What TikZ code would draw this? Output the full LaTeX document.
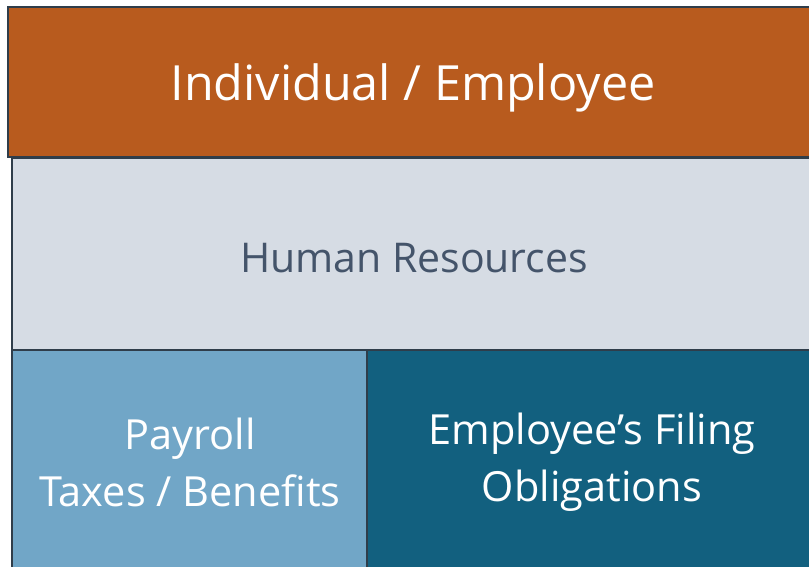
\documentclass[tikz,border=0pt]{standalone}
\usepackage{fontspec}
\setmainfont{Open Sans}
\begin{document}
\begin{tikzpicture}[x=1pt,y=-1pt,
  block/.style={draw=edgecol, line width=2.8pt, rectangle, inner sep=0pt},
  caption/.style={align=center, inner sep=0pt, font=\fontsize{41.5}{57}\selectfont},
  ]
\definecolor{edgecol}{HTML}{2F3D4A}
\definecolor{rust}{HTML}{B85B1E}
\definecolor{mist}{HTML}{D6DCE4}
\definecolor{slatetxt}{HTML}{44546A}
\definecolor{skyblue}{HTML}{71A6C7}
\definecolor{deepteal}{HTML}{12607F}
\useasboundingbox (0,0) rectangle (809,566);
\clip (0,0) rectangle (809,566);
% stacked layers
\node[block, fill=rust, minimum width=810pt, minimum height=150pt] (indiv) at (413,82) {};
\node[block, fill=mist, minimum width=804pt, minimum height=192pt] (hr) at (414,254) {};
\node[block, fill=skyblue, minimum width=355pt, minimum height=230pt] (payroll) at (189.5,465) {};
\node[block, fill=deepteal, minimum width=450pt, minimum height=230pt] (filing) at (592,465) {};
% captions
\node[caption, text=white, font=\fontsize{48.5}{57}\selectfont] (indivtxt) at (413,88) {Individual / Employee};
\node[caption, text=slatetxt, font=\fontsize{41}{57}\selectfont] (hrtxt) at (414,258) {Human Resources};
\node[caption, text=white] (paytxt) at (190,462) {Payroll\\Taxes / Benefits};
\node[caption, text=white] (filetxt) at (592,462) {Employee’s Filing\\Obligations};
\end{tikzpicture}
\end{document}
